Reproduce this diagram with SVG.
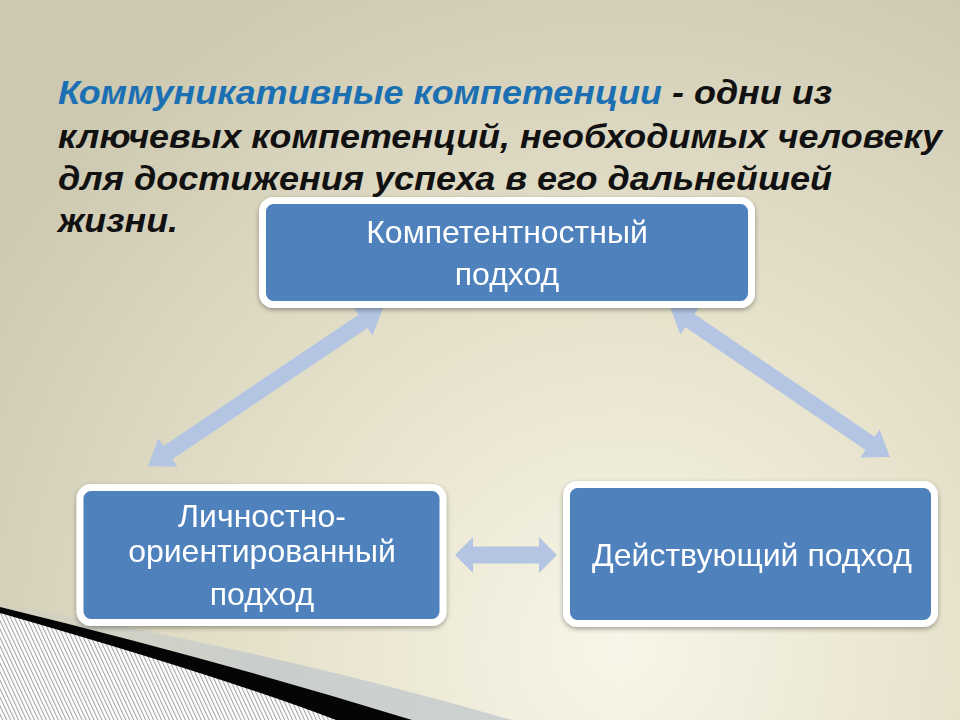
<svg xmlns="http://www.w3.org/2000/svg" width="960" height="720" viewBox="0 0 960 720">
<defs>
<radialGradient id="bg" cx="620" cy="650" r="760" gradientUnits="userSpaceOnUse">
<stop offset="0" stop-color="#f8f6e8"/>
<stop offset="0.45" stop-color="#e6e2cc"/>
<stop offset="1" stop-color="#cdc8b0"/>
</radialGradient>
<linearGradient id="greyband" x1="0" y1="0" x2="512" y2="0" gradientUnits="userSpaceOnUse">
<stop offset="0" stop-color="#c7cbc8" stop-opacity="0.2"/>
<stop offset="0.5" stop-color="#c7cccb" stop-opacity="0.9"/>
<stop offset="1" stop-color="#cdd1d0"/>
</linearGradient>
<pattern id="hatch" width="3.6" height="10" patternUnits="userSpaceOnUse" patternTransform="rotate(-25)">
<rect width="3.6" height="10" fill="#ffffff"/>
<line x1="0.6" y1="0" x2="0.6" y2="10" stroke="#8c8c8c" stroke-width="0.9"/>
</pattern>
<filter id="sh" x="-10%" y="-10%" width="120%" height="130%">
<feGaussianBlur in="SourceAlpha" stdDeviation="2.5"/>
<feOffset dx="0" dy="2" result="b"/>
<feComponentTransfer><feFuncA type="linear" slope="0.35"/></feComponentTransfer>
<feMerge><feMergeNode/><feMergeNode in="SourceGraphic"/></feMerge>
</filter>
</defs>
<style>
.title{font-family:"Liberation Sans Narrow","Liberation Sans",Arial,sans-serif;font-weight:bold;font-style:italic;font-size:34px;fill:#111111}
.blue{fill:#1b6fb3}
.box{fill:#4f81bd;stroke:#ffffff;stroke-width:7}
.lbl{font-family:"Liberation Sans",Arial,sans-serif;font-size:32px;fill:#ffffff;text-anchor:middle}
.arr{fill:#b3c5e3}
</style>
<rect width="960" height="720" fill="url(#bg)"/>
<!-- bottom-left decoration -->
<path d="M0,604 Q260,648 512,720 L0,720 Z" fill="url(#greyband)"/>
<path d="M0,607 Q210,658 412,720 L0,720 Z" fill="#050505"/>
<path d="M0,613 Q220,676 336,720 L0,720 Z" fill="url(#hatch)"/>
<!-- title -->
<text class="title blue" x="58" y="104" textLength="604" lengthAdjust="spacingAndGlyphs">Коммуникативные компетенции</text>
<text class="title" x="672" y="104" textLength="160" lengthAdjust="spacingAndGlyphs">- одни из</text>
<text class="title" x="58" y="148" textLength="884" lengthAdjust="spacingAndGlyphs">ключевых компетенций, необходимых человеку</text>
<text class="title" x="58" y="190" textLength="774" lengthAdjust="spacingAndGlyphs">для достижения успеха в его дальнейшей</text>
<text class="title" x="58" y="232" textLength="120" lengthAdjust="spacingAndGlyphs">жизни.</text>
<!-- connectors -->
<g id="connectors">
<polygon class="arr" transform="translate(265.5,387) rotate(-33.9)" points="-141.5,0 -117.5,-17 -117.5,-8 117.5,-8 117.5,-17 141.5,0 117.5,17 117.5,8 -117.5,8 -117.5,17"/>
<polygon class="arr" transform="translate(780,382) rotate(34.3)" points="-133,0 -109,-17 -109,-8 109,-8 109,-17 133,0 109,17 109,8 -109,8 -109,17"/>
<polygon class="arr" transform="translate(506,555)" points="-51,0 -33,-18 -33,-8.5 33,-8.5 33,-18 51,0 33,18 33,8.5 -33,8.5 -33,18"/>
</g>
<!-- nodes -->
<g id="node-top" filter="url(#sh)">
<rect class="box" x="262.5" y="200.5" width="489" height="104" rx="11"/>
<text class="lbl" x="507" y="243">Компетентностный</text>
<text class="lbl" x="507" y="285">подход</text>
</g>
<g id="node-left" filter="url(#sh)">
<rect class="box" x="80" y="487.5" width="363" height="135" rx="11"/>
<text class="lbl" x="262" y="527">Личностно-</text>
<text class="lbl" x="262" y="562">ориентированный</text>
<text class="lbl" x="262" y="605">подход</text>
</g>
<g id="node-right" filter="url(#sh)">
<rect class="box" x="566.5" y="484.5" width="368" height="139" rx="11"/>
<text class="lbl" x="752" y="566">Действующий подход</text>
</g>
</svg>
